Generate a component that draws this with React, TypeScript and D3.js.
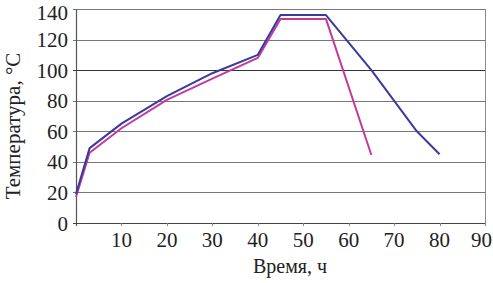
import React from "react";
import * as d3 from "d3";

const blueTimes = [0, 3, 10, 20, 30, 40, 45, 55, 65, 75, 80];
const blueTemps = [19, 49, 65, 83, 98, 110, 136, 136, 100, 60, 45];
const pinkTimes = [0, 3, 10, 20, 30, 40, 45, 55, 65];
const pinkTemps = [17, 46, 62, 80.5, 94.5, 108, 133.5, 133.5, 44.5];
const xTicks = [10, 20, 30, 40, 50, 60, 70, 80, 90];
const yTicks = [0, 20, 40, 60, 80, 100, 120, 140];

const W = 493;
const H = 283;
const left = 76;
const right = 485;
const top = 9;
const bottom = 223;

export default function App() {
  const x = d3.scaleLinear().domain([0, 90]).range([left, right]);
  const y = d3.scaleLinear().domain([0, 140]).range([bottom, top]);
  const line = d3
    .line<[number, number]>()
    .x((d) => x(d[0]))
    .y((d) => y(d[1]));
  const blue = blueTimes.map((t, i) => [t, blueTemps[i]] as [number, number]);
  const pink = pinkTimes.map((t, i) => [t, pinkTemps[i]] as [number, number]);
  const font = "'Liberation Serif', 'DejaVu Serif', serif";
  return (
    <svg
      width={W}
      height={H}
      style={{ position: "absolute", left: 0, top: 0, background: "#fff" }}
    >
      {yTicks.map((v) => (
        <g key={"y" + v}>
          {v > 0 && (
            <line
              x1={left - 3}
              x2={right}
              y1={Math.round(y(v)) + 0.5}
              y2={Math.round(y(v)) + 0.5}
              stroke={v === 100 ? "#333" : "#777"}
              strokeWidth={1.2}
            />
          )}
          <text
            x={68}
            y={v === 140 ? 20 : y(v) + 7.5}
            textAnchor="end"
            fontFamily={font}
            fontSize={21}
            fill="#222"
          >
            {v}
          </text>
        </g>
      ))}
      <line x1={right + 0.5} x2={right + 0.5} y1={top} y2={bottom} stroke="#888" strokeWidth={1} />
      <line x1={left + 0.5} x2={left + 0.5} y1={top} y2={bottom + 3} stroke="#555" strokeWidth={1.2} />
      <line x1={left - 3} x2={right} y1={bottom + 0.5} y2={bottom + 0.5} stroke="#444" strokeWidth={1.2} />
      {xTicks.map((v) => (
        <g key={"x" + v}>
          <line
            x1={Math.round(x(v)) + 0.5}
            x2={Math.round(x(v)) + 0.5}
            y1={bottom}
            y2={bottom + 3}
            stroke="#888"
          />
          <text
            x={v === 90 ? 492 : x(v)}
            y={247}
            textAnchor={v === 90 ? "end" : "middle"}
            fontFamily={font}
            fontSize={21}
            fill="#222"
          >
            {v}
          </text>
        </g>
      ))}
      <path d={line(pink) || ""} fill="none" stroke="#c23a9e" strokeWidth={2} strokeLinejoin="round" />
      <path d={line(blue) || ""} fill="none" stroke="#3a3a9c" strokeWidth={2} strokeLinejoin="round" />
      <text
        x={290}
        y={273}
        textAnchor="middle"
        fontFamily={font}
        fontSize={20}
        fill="#222"
      >
        Время, ч
      </text>
      <text
        transform={`translate(20,126) rotate(-90)`}
        textAnchor="middle"
        fontFamily={font}
        fontSize={21}
        fill="#222"
      >
        Температура, °C
      </text>
    </svg>
  );
}
